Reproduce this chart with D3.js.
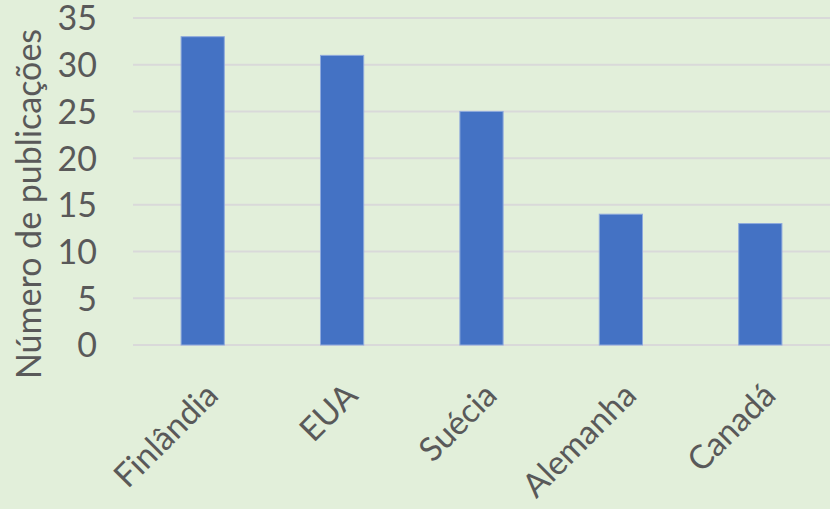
<!DOCTYPE html>
<html>
<head>
<meta charset="utf-8">
<script src="https://cdn.jsdelivr.net/npm/d3@7"></script>
<style>
  body { margin: 0; background: #e2efda; }
  svg text { font-family: Lato, "Open Sans", sans-serif; fill: #595959; }
</style>
</head>
<body>
<svg id="chart"></svg>
<script>
var WIDTH = 830;
var HEIGHT = 509;

//chart data
var countries = ["Finlândia", "EUA", "Suécia", "Alemanha", "Canadá"];
var publications = [33, 31, 25, 14, 13];
var yTicks = [0, 5, 10, 15, 20, 25, 30, 35];
var yTitle = "Número de publicações";

var margin = { top: 18, right: 0, bottom: 164, left: 133 };

var svg = d3.select("#chart").attr("width", WIDTH).attr("height", HEIGHT);

svg.append("rect")
  .attr("width", WIDTH)
  .attr("height", HEIGHT)
  .style("fill", "#e2efda");

var x = d3.scaleBand()
  .domain(countries)
  .range([margin.left, WIDTH - margin.right])
  .paddingInner(0.69)
  .paddingOuter(0.345);

var y = d3.scaleLinear()
  .domain([0, 35])
  .range([HEIGHT - margin.bottom, margin.top]);

//gridlines
svg.append("g")
  .selectAll("line")
  .data(yTicks)
  .enter()
  .append("line")
  .attr("x1", margin.left)
  .attr("x2", WIDTH)
  .attr("y1", function (d) { return y(d); })
  .attr("y2", function (d) { return y(d); })
  .style("stroke", "#d9d9d9")
  .style("stroke-width", "2px");

//y axis labels
var yAxis = d3.axisLeft(y).tickValues(yTicks).tickSize(0).tickPadding(0);
var yG = svg.append("g")
  .attr("transform", "translate(97,1)")
  .call(yAxis);
yG.select(".domain").remove();
yG.selectAll("text")
  .style("font-size", "34px")
  .style("font-family", "Lato, sans-serif")
  .attr("fill", "#595959");

//bars
svg.append("g")
  .selectAll("rect")
  .data(publications)
  .enter()
  .append("rect")
  .attr("x", function (d, i) { return x(countries[i]); })
  .attr("y", function (d) { return y(d); })
  .attr("width", x.bandwidth())
  .attr("height", function (d) { return y(0) - y(d); })
  .style("fill", "#4472c4")
  .style("stroke", "#8faadc")
  .style("stroke-width", "1px");

//x labels
svg.append("g")
  .selectAll("text")
  .data(countries)
  .enter()
  .append("text")
  .attr("transform", function (d) {
    return "translate(" + (x(d) + x.bandwidth() / 2 + 1) + ",381) rotate(-45)";
  })
  .attr("text-anchor", "end")
  .attr("dy", "0.7em")
  .style("font-size", "33px")
  .text(function (d) { return d; });

//y title
svg.append("text")
  .attr("transform", "translate(41,204) rotate(-90)")
  .attr("text-anchor", "middle")
  .style("font-size", "34px")
  .text(yTitle);
</script>
</body>
</html>
